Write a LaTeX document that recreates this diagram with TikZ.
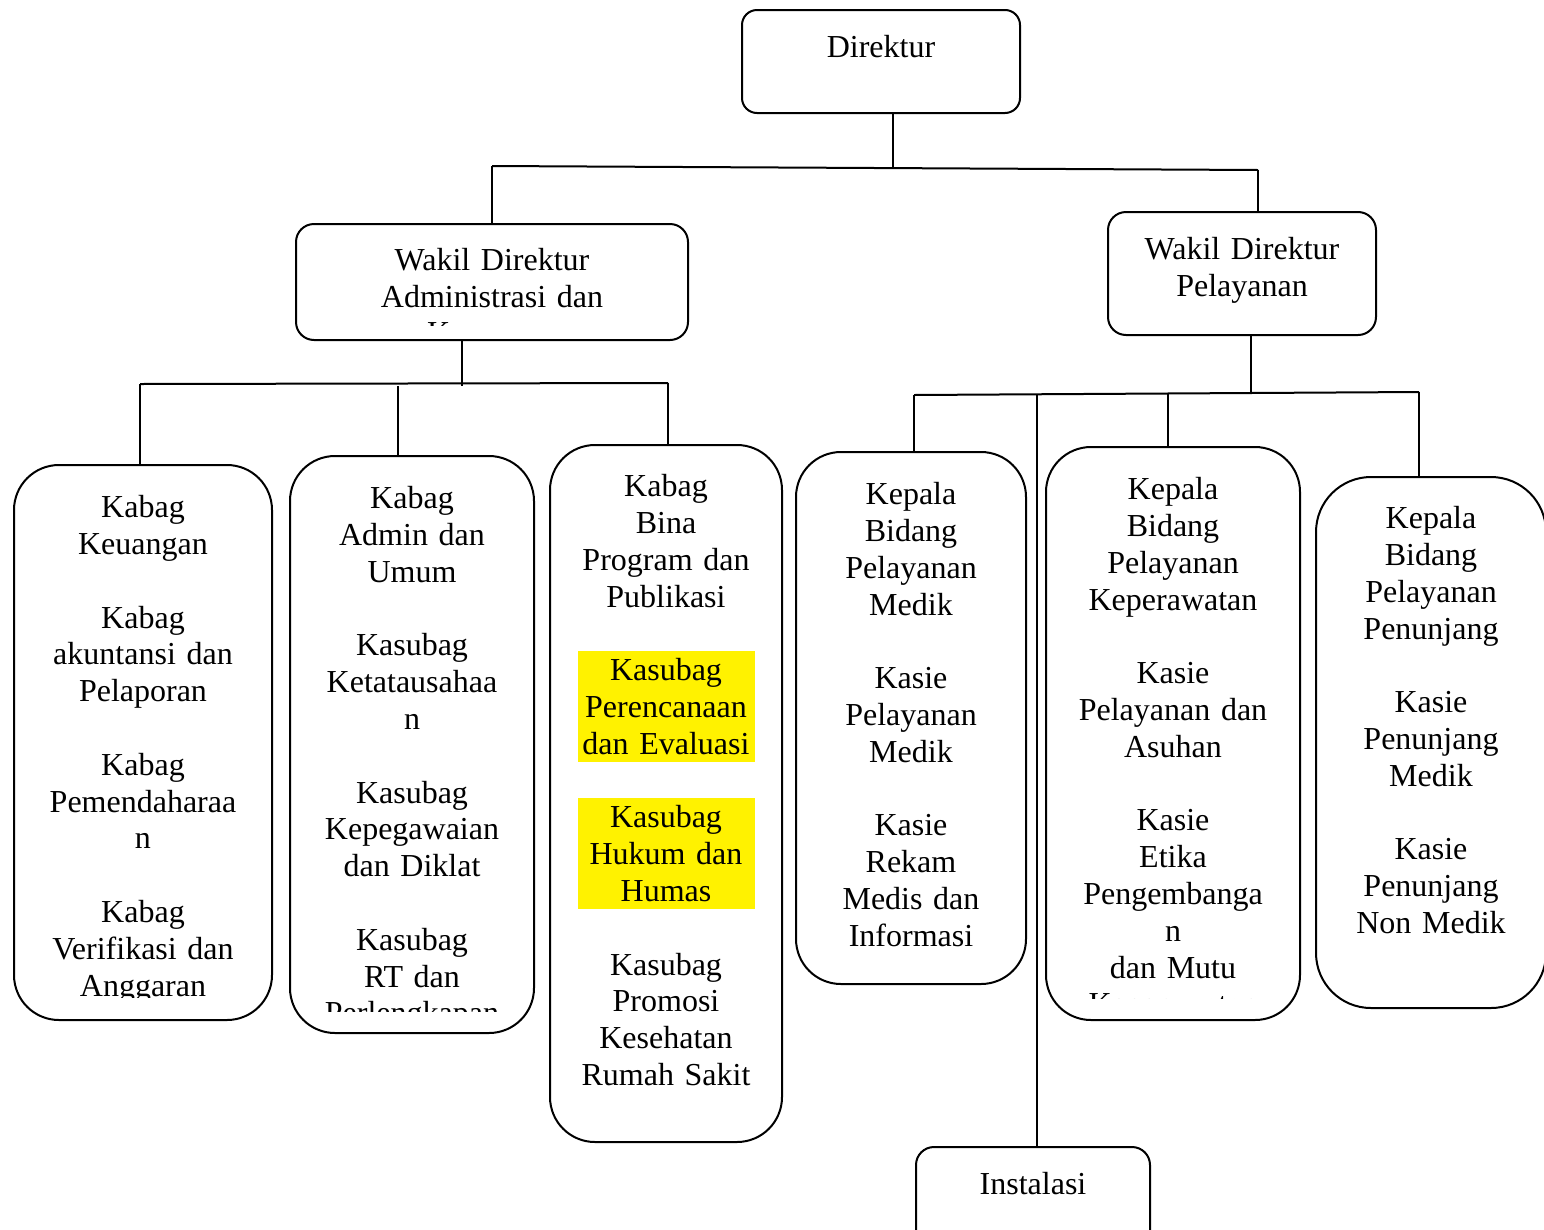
\documentclass[tikz,border=0pt]{standalone}
\usepackage{fontspec}
\setmainfont{Liberation Serif}
\newcommand\fstrut{\rule{0pt}{25pt}}
\begin{document}
\begin{tikzpicture}[x=1pt,y=-1pt,
  box/.style={draw, line width=2pt, inner sep=0pt, rounded corners=45pt},
  smallbox/.style={box, rounded corners=18pt},
  txt/.style={inner sep=0pt, anchor=north, text width=300pt, align=center, font=\fontsize{32}{36.8}\selectfont},
  conn/.style={line width=2pt},
  hl/.style={fill=yellow}]
\useasboundingbox (0,0) rectangle (1544,1229);

% boxes
\node[smallbox, rounded corners=15pt, minimum width=278pt, minimum height=103pt] (dir) at (881,61.5) {};
\node[smallbox, minimum width=392pt, minimum height=116pt] (wa) at (492,282) {};
\node[smallbox, minimum width=268pt, minimum height=123pt] (wp) at (1242,273.5) {};
\node[box, minimum width=258pt, minimum height=555pt] (b1) at (143,742.5) {};
\node[box, minimum width=244pt, minimum height=577pt] (b2) at (412,744.5) {};
\node[box, minimum width=232pt, minimum height=697pt] (b3) at (666,793.5) {};
\node[box, minimum width=230pt, minimum height=532pt] (b4) at (911,718) {};
\node[box, minimum width=254pt, minimum height=573pt] (b5) at (1173,733.5) {};
\node[box, rounded corners=55pt, minimum width=230pt, minimum height=531pt] (b6) at (1431,742.5) {};
\node[smallbox, minimum width=234pt, minimum height=123pt] (ins) at (1033,1208.5) {};

% highlights
\fill[hl] (578,651) rectangle (755,762);
\fill[hl] (578,798) rectangle (755,909);

% texts
\node[txt] (td) at (881,32) {\fstrut Direktur};
\begin{scope}
  \clip (300,228) rectangle (684,325);
  \node[txt] (twa) at (492,245) {\fstrut Wakil Direktur\\Administrasi dan\\Keuangan};
\end{scope}
\node[txt] (twp) at (1242,234) {\fstrut Wakil Direktur\\Pelayanan};
\begin{scope}
  \clip (18,470) rectangle (268,997);
  \node[txt] (t1) at (143,492.5) {\fstrut Kabag\\Keuangan\\[36.8pt]Kabag\\akuntansi dan\\Pelaporan\\[36.8pt]Kabag\\Pemendaharaa\\n\\[36.8pt]Kabag\\Verifikasi dan\\Anggaran};
\end{scope}
\begin{scope}
  \clip (294,460) rectangle (530,1011);
  \node[txt] (t2) at (412,483.5) {\fstrut Kabag\\Admin dan\\Umum\\[36.8pt]Kasubag\\Ketatausahaa\\n\\[36.8pt]Kasubag\\Kepegawaian\\dan Diklat\\[36.8pt]Kasubag\\RT dan\\Perlengkapan};
\end{scope}
\node[txt] (t3) at (666,471.5) {\fstrut Kabag\\Bina\\Program dan\\Publikasi\\[36.8pt]Kasubag\\Perencanaan\\dan Evaluasi\\[36.8pt]Kasubag\\Hukum dan\\Humas\\[36.8pt]Kasubag\\Promosi\\Kesehatan\\Rumah Sakit};
\node[txt] (t4) at (911,479.5) {\fstrut Kepala\\Bidang\\Pelayanan\\Medik\\[36.8pt]Kasie\\Pelayanan\\Medik\\[36.8pt]Kasie\\Rekam\\Medis dan\\Informasi};
\begin{scope}
  \clip (1050,450) rectangle (1296,998);
  \node[txt] (t5) at (1173,474.5) {\fstrut Kepala\\Bidang\\Pelayanan\\Keperawatan\\[36.8pt]Kasie\\Pelayanan dan\\Asuhan\\[36.8pt]Kasie\\Etika\\Pengembanga\\n\\dan Mutu\\Keperawatan};
\end{scope}
\node[txt] (t6) at (1431,503.5) {\fstrut Kepala\\Bidang\\Pelayanan\\Penunjang\\[36.8pt]Kasie\\Penunjang\\Medik\\[36.8pt]Kasie\\Penunjang\\Non Medik};
\node[txt] (tins) at (1033,1169) {\fstrut Instalasi};

% connectors: Direktur
\coordinate (j0) at (893,167);
\coordinate (hl) at (492,166);
\coordinate (hr) at (1258,170);
\draw[conn] (dir.south -| j0) -- (j0);
\draw[conn] (hl) -- (hr);
\draw[conn] (hl) -- (hl |- wa.north);
\draw[conn] (hr) -- (hr |- wp.north);

% connectors: Administrasi
\coordinate (ja) at (462,386);
\coordinate (al) at (140,384);
\coordinate (ar) at (668,383);
\coordinate (a2) at (398,386);
\draw[conn] (wa.south -| ja) -- (ja);
\draw[conn] (al) -- (ar);
\draw[conn] (al) -- (al |- b1.north);
\draw[conn] (a2) -- (a2 |- b2.north);
\draw[conn] (ar) -- (ar |- b3.north);

% connectors: Pelayanan
\coordinate (jp) at (1251,393);
\coordinate (pl) at (914,395);
\coordinate (pr) at (1419,392);
\coordinate (p2) at (1037,394.5);
\coordinate (p3) at (1168,393.5);
\draw[conn] (wp.south -| jp) -- (jp);
\draw[conn] (pl) -- (pr);
\draw[conn] (pl) -- (pl |- b4.north);
\draw[conn] (p2) -- (p2 |- ins.north);
\draw[conn] (p3) -- (p3 |- b5.north);
\draw[conn] (pr) -- (pr |- b6.north);
\end{tikzpicture}
\end{document}
